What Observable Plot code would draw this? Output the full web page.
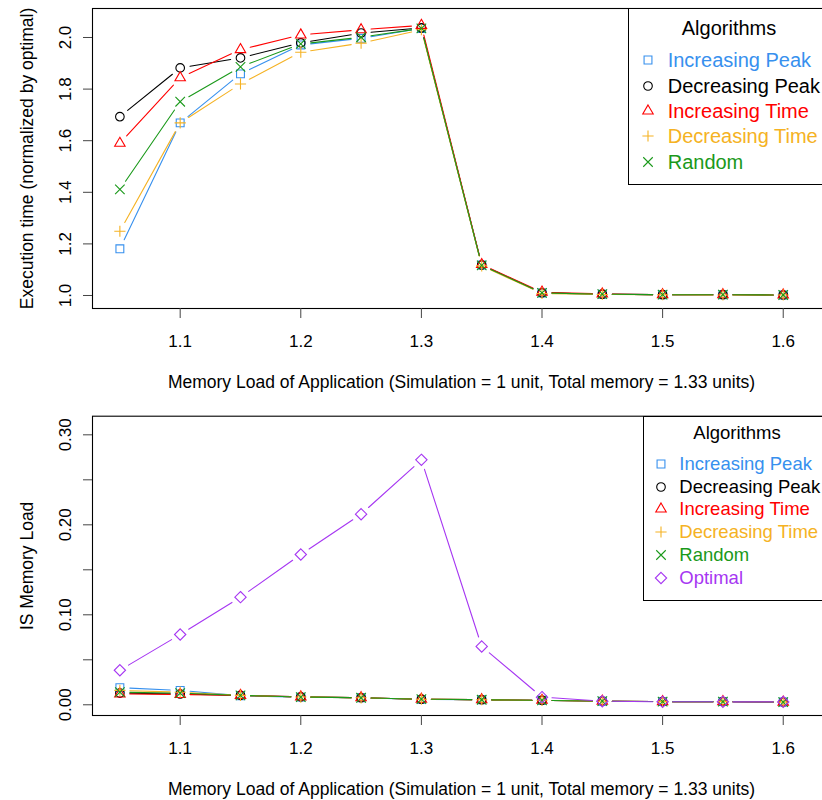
<!DOCTYPE html>
<html>
<head>
<meta charset="utf-8">
<script src="https://cdn.jsdelivr.net/npm/d3@7"></script>
<script src="https://cdn.jsdelivr.net/npm/@observablehq/plot@0.6"></script>
<style>
  html, body { margin: 0; padding: 0; background: #fff; overflow: hidden; }
  #wrap { position: relative; width: 822px; height: 800px; font-family: "Liberation Sans", Arial, sans-serif; }
  .panel { position: absolute; left: 0; }
  .legend { position: absolute; border: 1px solid #000; background: #fff; box-sizing: border-box; }
  .legend .t { position: absolute; white-space: nowrap; transform: translate(-50%, -50%); }
  .legend .row { position: absolute; white-space: nowrap; transform: translateY(-50%); }
  .legend svg { position: absolute; overflow: visible; }
</style>
</head>
<body>
<div id="wrap"></div>
<script>
// ---------------- data ----------------
const memLoad = [1.05, 1.1, 1.15, 1.2, 1.25, 1.3, 1.35, 1.4, 1.45, 1.5, 1.55, 1.6];
const seriesNames = ["Increasing Peak", "Decreasing Peak", "Increasing Time", "Decreasing Time", "Random", "Optimal"];
const seriesColors = ["#3790ee", "#000000", "#ff0000", "#f5b223", "#1a991a", "#a636f2"];
const seriesSymbols = ["square2", "circle", "triangle2", "plus", "times", "diamond2"];

// Top panel: execution time normalized by optimal
const execIncPeak = [1.181, 1.669, 1.859, 1.971, 1.997, 2.035, 1.118, 1.010, 1.005, 1.003, 1.003, 1.002];
const execDecPeak = [1.693, 1.882, 1.921, 1.979, 2.017, 2.037, 1.118, 1.010, 1.005, 1.003, 1.003, 1.002];
const execIncTime = [1.590, 1.844, 1.953, 2.010, 2.030, 2.047, 1.120, 1.013, 1.006, 1.003, 1.003, 1.002];
const execDecTime = [1.249, 1.669, 1.820, 1.943, 1.978, 2.030, 1.115, 1.008, 1.004, 1.003, 1.002, 1.002];
const execRandom  = [1.411, 1.751, 1.886, 1.975, 2.001, 2.035, 1.117, 1.010, 1.005, 1.003, 1.003, 1.002];

// Bottom panel: IS memory load
const isIncPeak = [0.019, 0.016, 0.0100, 0.0085, 0.0078, 0.0060, 0.0056, 0.0050, 0.0040, 0.0035, 0.0035, 0.0030];
const isDecPeak = [0.013, 0.012, 0.0105, 0.0088, 0.0078, 0.0062, 0.0056, 0.0050, 0.0040, 0.0035, 0.0035, 0.0030];
const isIncTime = [0.012, 0.0115, 0.0105, 0.0088, 0.0078, 0.0062, 0.0056, 0.0050, 0.0040, 0.0035, 0.0035, 0.0030];
const isDecTime = [0.016, 0.014, 0.0105, 0.0086, 0.0078, 0.0062, 0.0056, 0.0050, 0.0040, 0.0035, 0.0035, 0.0030];
const isRandom  = [0.014, 0.013, 0.0105, 0.0086, 0.0078, 0.0062, 0.0056, 0.0050, 0.0040, 0.0035, 0.0035, 0.0030];
const isOptimal = [0.0384, 0.0781, 0.1196, 0.1670, 0.2118, 0.2722, 0.0648, 0.0085, 0.0040, 0.0033, 0.0033, 0.0032];

const xTicks = [1.1, 1.2, 1.3, 1.4, 1.5, 1.6];
const topYTicks = [1.0, 1.2, 1.4, 1.6, 1.8, 2.0];
const botYTicks = [0.00, 0.05, 0.10, 0.15, 0.20, 0.25, 0.30];
const botYLabels = [0.00, 0.10, 0.20, 0.30];

const xTitle = "Memory Load of Application (Simulation = 1 unit, Total memory = 1.33 units)";
const topYTitle = "Execution time (normalized by optimal)";
const botYTitle = "IS Memory Load";
const legendTitle = "Algorithms";

// ---------------- helpers ----------------
const FONT = "Liberation Sans, Arial, sans-serif";
const AXIS_FS = 17;
const TITLE_FS = 17.5;
const symbolR = {square2: 5.0, circle: 4.3, triangle2: 5.0, plus: 3.7, times: 4.4, diamond2: 5.1};

function seriesMarks(valuesList, idxs) {
  const marks = [];
  valuesList.forEach((vals, k) => {
    const i = idxs[k];
    const segs = d3.pairs(memLoad.map((x, j) => ({x, y: vals[j]})));
    marks.push(Plot.arrow(segs, {
      x1: d => d[0].x, y1: d => d[0].y, x2: d => d[1].x, y2: d => d[1].y,
      stroke: seriesColors[i], strokeWidth: 1.1, headLength: 0, inset: 10, bend: 0
    }));
    marks.push(Plot.dot(memLoad.map((x, j) => ({x, y: vals[j]})), {
      x: "x", y: "y", symbol: () => seriesSymbols[i], stroke: seriesColors[i],
      fill: "none", strokeWidth: 1.1, r: symbolR[seriesSymbols[i]]
    }));
  });
  return marks;
}

function panel({height, marginTop, marginBottom, yDomain, yTicks, yLabels, yFmt, yTitle, series, idxs}) {
  return Plot.plot({
    width: 822, height, marginTop, marginBottom, marginLeft: 92, marginRight: -8,
    style: {fontFamily: FONT, fontSize: AXIS_FS + "px", color: "#000", background: "transparent", overflow: "visible"},
    x: {domain: [1.0273, 1.6392]},
    y: {domain: yDomain},
    symbol: {type: "identity"},
    marks: [
      Plot.frame({stroke: "#000", strokeWidth: 1.1}),
      Plot.axisX(xTicks, {tickSize: 10, tickPadding: 16, fontSize: AXIS_FS, label: null, tickFormat: d => d.toFixed(1), stroke: "#444"}),
      Plot.axisY(yTicks, {tickSize: 9, tickFormat: () => "", label: null, stroke: "#444"}),
      Plot.text(yLabels, {y: d => d, text: yFmt, frameAnchor: "left", dx: -27, rotate: -90,
        textAnchor: "middle", lineAnchor: "middle", fontSize: AXIS_FS}),
      Plot.text([yTitle], {frameAnchor: "left", dx: -65, rotate: -90,
        textAnchor: "middle", lineAnchor: "middle", fontSize: TITLE_FS}),
      Plot.text([xTitle], {frameAnchor: "bottom", dy: 74, textAnchor: "middle", lineAnchor: "middle", fontSize: TITLE_FS}),
      ...seriesMarks(series, idxs)
    ]
  });
}

const wrap = document.getElementById("wrap");

const topPanel = panel({
  height: 400, marginTop: 8, marginBottom: 92,
  yDomain: [0.9496, 2.1124], yTicks: topYTicks, yLabels: topYTicks, yFmt: d => d.toFixed(1),
  yTitle: topYTitle,
  series: [execIncPeak, execDecPeak, execIncTime, execDecTime, execRandom], idxs: [0, 1, 2, 3, 4]
});
topPanel.classList.add("panel"); topPanel.style.top = "0px";
wrap.appendChild(topPanel);

const botPanel = panel({
  height: 400, marginTop: 15.7, marginBottom: 85,
  yDomain: [-0.0119, 0.3207], yTicks: botYTicks, yLabels: botYLabels, yFmt: d => d.toFixed(2),
  yTitle: botYTitle,
  series: [isIncPeak, isDecPeak, isIncTime, isDecTime, isRandom, isOptimal], idxs: [0, 1, 2, 3, 4, 5]
});
botPanel.classList.add("panel"); botPanel.style.top = "400px";
wrap.appendChild(botPanel);

// ---------------- legends ----------------
function legend({left, top, bottom, fontSize, titleX, titleY, rowYs, symX, textX, idxs}) {
  const box = document.createElement("div");
  box.className = "legend";
  box.style.left = left + "px";
  box.style.top = top + "px";
  box.style.width = (840 - left) + "px";
  box.style.height = (bottom - top) + "px";
  const t = document.createElement("div");
  t.className = "t";
  t.textContent = legendTitle;
  t.style.left = (titleX - left) + "px";
  t.style.top = (titleY - top) + "px";
  t.style.fontSize = fontSize + "px";
  box.appendChild(t);
  const symMap = {square2: d3.symbolSquare2, circle: d3.symbolCircle, triangle2: d3.symbolTriangle2,
                  plus: d3.symbolPlus, times: d3.symbolTimes, diamond2: d3.symbolDiamond2};
  idxs.forEach((i, k) => {
    const y = rowYs[k] - top;
    const svg = d3.create("svg").attr("width", 1).attr("height", 1)
      .style("left", (symX - left) + "px").style("top", y + "px");
    const r = symbolR[seriesSymbols[i]];
    svg.append("path").attr("d", d3.symbol(symMap[seriesSymbols[i]], Math.PI * r * r)())
      .attr("fill", "none").attr("stroke", seriesColors[i]).attr("stroke-width", 1.1);
    box.appendChild(svg.node());
    const row = document.createElement("div");
    row.className = "row";
    row.textContent = seriesNames[i];
    row.style.left = (textX - left) + "px";
    row.style.top = y + "px";
    row.style.color = seriesColors[i];
    row.style.fontSize = fontSize + "px";
    box.appendChild(row);
  });
  wrap.appendChild(box);
}

legend({left: 628, top: 8, bottom: 185, fontSize: 20, titleX: 728, titleY: 27,
        rowYs: [59.3, 84.6, 109.9, 135.2, 160.5], symX: 647.3, textX: 666.7, idxs: [0, 1, 2, 3, 4]});
legend({left: 642.7, top: 415.7, bottom: 601, fontSize: 18.5, titleX: 736, titleY: 432.5,
        rowYs: [462.7, 485.6, 508.5, 531.4, 554.3, 577.2], symX: 660, textX: 678.3, idxs: [0, 1, 2, 3, 4, 5]});
</script>
</body>
</html>
